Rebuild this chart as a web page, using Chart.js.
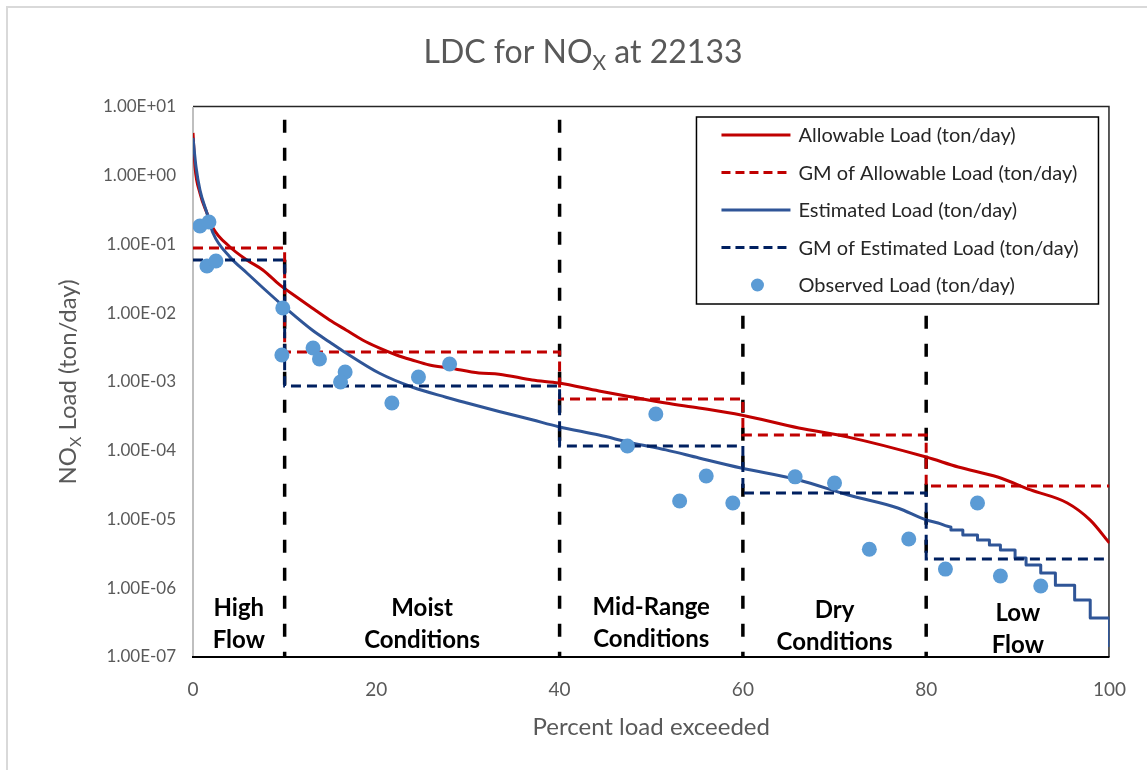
<!DOCTYPE html>
<html>
<head>
<meta charset="utf-8">
<title>LDC for NOx at 22133</title>
<script src="https://cdn.jsdelivr.net/npm/chart.js@4.4.1/dist/chart.umd.min.js"></script>
<style>
  html, body { margin: 0; padding: 0; background: #ffffff; }
  canvas { display: block; }
</style>
</head>
<body>
<canvas id="ldc" width="1147" height="770"></canvas>
<script>
// ---- Data -------------------------------------------------------------
// Allowable load duration curve (percent exceeded, ton/day)
const allowPct  = [0, 0.22, 0.76, 1.52, 2.18, 4.03, 5.88, 7.62, 9.47, 11.3, 13.0, 14.9, 16.7, 18.5, 20.3, 22.2, 23.9, 25.8, 28.0, 31.2, 33.4, 37.0, 39.9, 44.3, 47.9, 51.6, 55.2, 59.8, 66.1, 71.5, 80.0, 83.5, 87.8, 91.4, 95.4, 97.9, 100];
const allowLoad = [4.2, 1.34, 0.56, 0.287, 0.174, 0.092, 0.0596, 0.0426, 0.0258, 0.0172, 0.0119, 0.00798, 0.0057, 0.00408, 0.00313, 0.00247, 0.00209, 0.00177, 0.0016, 0.00135, 0.0013, 0.00107, 0.000966, 0.00074, 0.000605, 0.000495, 0.000419, 0.000331, 0.000214, 0.000158, 8.1e-5, 5.8e-5, 4.15e-5, 2.69e-5, 1.74e-5, 9.8e-6, 4.55e-6];

// Estimated load duration curve (stepped at the low-flow end)
const estPct  = [0, 0.33, 0.76, 1.52, 2.18, 4.03, 5.88, 7.62, 9.47, 10.1, 13.0, 14.9, 16.7, 20.3, 23.9, 27.6, 29.8, 33.4, 37.0, 39.9, 44.3, 47.9, 51.6, 55.2, 59.8, 66.1, 71.5, 76.9, 80.0, 81.3, 82.7, 82.7, 84.0, 84.0, 85.6, 85.6, 86.9, 86.9, 88.1, 88.1, 89.7, 89.7, 90.9, 90.9, 92.5, 92.5, 94.1, 94.1, 96.2, 96.2, 97.9, 97.9, 100, 100];
const estLoad = [3.54, 1.34, 0.62, 0.287, 0.147, 0.0658, 0.0385, 0.0235, 0.0141, 0.0119, 0.0057, 0.00382, 0.00264, 0.00135, 0.000846, 0.000601, 0.000499, 0.000373, 0.000282, 0.000224, 0.000169, 0.00013, 0.000103, 7.85e-5, 5.61e-5, 3.76e-5, 2.27e-5, 1.47e-5, 9.84e-6, 8.9e-6, 7.8e-6, 7.03e-6, 7.03e-6, 5.96e-6, 5.96e-6, 5.04e-6, 5.04e-6, 4.26e-6, 4.26e-6, 3.6e-6, 3.6e-6, 2.75e-6, 2.75e-6, 2.18e-6, 2.18e-6, 1.67e-6, 1.67e-6, 1.11e-6, 1.11e-6, 6.74e-7, 6.74e-7, 3.69e-7, 3.69e-7, 1.4e-7];

// Observed loads from sampling
const obsPct  = [0.76, 1.74, 1.52, 2.5, 9.8, 9.7, 13.1, 13.8, 16.6, 16.1, 21.7, 24.6, 28.0, 47.4, 50.5, 53.1, 56.0, 58.9, 65.7, 70.0, 73.8, 78.1, 82.1, 85.6, 88.1, 92.5];
const obsLoad = [0.186, 0.212, 0.0487, 0.0575, 0.0119, 0.00247, 0.00313, 0.00216, 0.0014, 0.001, 0.000496, 0.00118, 0.00183, 0.000117, 0.000343, 1.86e-5, 4.3e-5, 1.74e-5, 4.17e-5, 3.39e-5, 3.7e-6, 5.2e-6, 1.9e-6, 1.74e-5, 1.51e-6, 1.08e-6];

// Flow regimes: edges (percent exceeded) and geometric means per regime
const zoneEdges   = [0, 10, 40, 60, 80, 100];
const zoneNames   = [["High", "Flow"], ["Moist", "Conditions"], ["Mid-Range", "Conditions"], ["Dry", "Conditions"], ["Low", "Flow"]];
const gmAllowLoad = [0.089, 0.00273, 0.000566, 0.000169, 3.07e-5];
const gmEstLoad   = [0.0596, 0.000875, 0.000117, 2.43e-5, 2.66e-6];
const dividerTop  = 6.5;   // upper end of the regime divider lines (ton/day)

// Axis ticks
const xTicks = [0, 20, 40, 60, 80, 100];
const yTicks = [1e-7, 1e-6, 1e-5, 1e-4, 1e-3, 1e-2, 1e-1, 1, 10];

const seriesNames = [
  "Allowable Load (ton/day)",
  "GM of Allowable Load (ton/day)",
  "Estimated Load (ton/day)",
  "GM of Estimated Load (ton/day)",
  "Observed Load (ton/day)"
];

// ---- Styling ----------------------------------------------------------
const FONT = "Lato, 'Open Sans', sans-serif";
const RED = "#C00000", BLUE = "#2F5597", NAVY = "#002060", DOT = "#5B9BD5";
const GREY_TEXT = "#595959";

// ---- Helpers ----------------------------------------------------------
const pairs = (xs, ys) => xs.map((x, i) => ({ x: x, y: ys[i] }));
function steps(edges, vals) {
  const pts = [];
  vals.forEach((v, i) => { pts.push({ x: edges[i], y: v }); pts.push({ x: edges[i + 1], y: v }); });
  return pts;
}
function sci(v) {
  const e = Math.floor(Math.log10(v) + 1e-9);
  const m = v / Math.pow(10, e);
  return m.toFixed(2) + "E" + (e < 0 ? "-" : "+") + String(Math.abs(e)).padStart(2, "0");
}
// Text made of normal and subscript parts
function richText(ctx, parts, x, y, size, weight, color, align) {
  const main = weight + " " + size + "px " + FONT;
  const sub = weight + " " + Math.round(size * 0.66) + "px " + FONT;
  let total = 0;
  parts.forEach(p => { ctx.font = p.sub ? sub : main; total += ctx.measureText(p.t).width; });
  let cx = align === "center" ? x - total / 2 : x;
  ctx.fillStyle = color;
  ctx.textAlign = "left";
  ctx.textBaseline = "alphabetic";
  parts.forEach(p => {
    ctx.font = p.sub ? sub : main;
    ctx.fillText(p.t, cx, p.sub ? y + size * 0.22 : y);
    cx += ctx.measureText(p.t).width;
  });
}

// ---- Datasets (first listed is drawn on top) ---------------------------
const datasets = [
  { label: seriesNames[4], data: pairs(obsPct, obsLoad), showLine: false,
    pointRadius: 7.5, pointHoverRadius: 7.5, pointBackgroundColor: DOT, pointBorderWidth: 0, borderColor: DOT },
  { label: seriesNames[3], data: steps(zoneEdges, gmEstLoad), borderColor: NAVY, borderWidth: 3,
    borderDash: [10, 6], pointRadius: 0, tension: 0, borderCapStyle: "butt" },
  { label: seriesNames[2], data: pairs(estPct, estLoad), borderColor: BLUE, borderWidth: 3,
    pointRadius: 0, cubicInterpolationMode: "monotone", borderJoinStyle: "round" },
  { label: seriesNames[1], data: steps(zoneEdges, gmAllowLoad), borderColor: RED, borderWidth: 3,
    borderDash: [10, 6], pointRadius: 0, tension: 0, borderCapStyle: "butt" },
  { label: seriesNames[0], data: pairs(allowPct, allowLoad), borderColor: RED, borderWidth: 3,
    pointRadius: 0, cubicInterpolationMode: "monotone", borderJoinStyle: "round" }
];
zoneEdges.slice(1, -1).forEach(e => {
  datasets.push({ label: "divider", data: [{ x: e, y: dividerTop }, { x: e, y: yTicks[0] }],
    borderColor: "#000000", borderWidth: 3.5, borderDash: [13, 15], pointRadius: 0, borderCapStyle: "butt" });
});

// ---- Decorations: frame, titles, regime labels, legend ----------------
const decor = {
  id: "decor",
  beforeDraw(chart) {
    const ctx = chart.ctx;
    ctx.save();
    ctx.fillStyle = "#ffffff";
    ctx.fillRect(0, 0, chart.width, chart.height);
    ctx.strokeStyle = "#D9D9D9";
    ctx.lineWidth = 2;
    ctx.strokeRect(7, 7, chart.width + 40, chart.height + 40);
    ctx.restore();
  },
  beforeDatasetsDraw(chart) {
    const ctx = chart.ctx, a = chart.chartArea;
    ctx.save();
    ctx.strokeStyle = "#262626";
    ctx.lineWidth = 1.5;
    ctx.beginPath();
    ctx.moveTo(a.left, a.top - 0.5); ctx.lineTo(a.right - 0.5, a.top - 0.5); ctx.lineTo(a.right - 0.5, a.bottom);
    ctx.stroke();
    ctx.strokeStyle = "#BFBFBF";
    ctx.lineWidth = 2;
    ctx.beginPath(); ctx.moveTo(a.left, a.top); ctx.lineTo(a.left, a.bottom); ctx.stroke();
    ctx.strokeStyle = "#000000";
    ctx.beginPath(); ctx.moveTo(a.left - 1, a.bottom); ctx.lineTo(a.right, a.bottom); ctx.stroke();
    ctx.restore();
  },
  afterDatasetsDraw(chart) {
    const ctx = chart.ctx, a = chart.chartArea, xs = chart.scales.x;
    ctx.save();
    // regime labels
    ctx.fillStyle = "#000000";
    ctx.font = "bold 24px " + FONT;
    ctx.textAlign = "center";
    ctx.textBaseline = "middle";
    const dy = [0, 0, -1, 2, 5];
    zoneNames.forEach((lines, i) => {
      const cx = xs.getPixelForValue((zoneEdges[i] + zoneEdges[i + 1]) / 2);
      ctx.fillText(lines[0], cx, a.bottom - 49 + dy[i]);
      ctx.fillText(lines[1], cx, a.bottom - 17 + dy[i]);
    });

    // legend box
    const L = a.right - 413, T = a.top + 10, W = 402, H = 187;
    ctx.fillStyle = "#ffffff";
    ctx.fillRect(L, T, W, H);
    ctx.strokeStyle = "#000000";
    ctx.lineWidth = 1.5;
    ctx.strokeRect(L, T, W, H);
    const styles = [
      { c: RED, dash: [] }, { c: RED, dash: [9, 5] }, { c: BLUE, dash: [] }, { c: NAVY, dash: [9, 5] }, { c: DOT, dot: true }
    ];
    ctx.font = "20px " + FONT;
    ctx.textAlign = "left";
    ctx.textBaseline = "middle";
    seriesNames.forEach((name, i) => {
      const y = T + 18 + i * 37.5;
      const st = styles[i];
      if (st.dot) {
        ctx.fillStyle = st.c;
        ctx.beginPath(); ctx.arc(L + 61, y, 6.5, 0, Math.PI * 2); ctx.fill();
      } else {
        ctx.strokeStyle = st.c;
        ctx.lineWidth = 3;
        ctx.setLineDash(st.dash);
        ctx.beginPath(); ctx.moveTo(L + 25, y); ctx.lineTo(L + 94, y); ctx.stroke();
        ctx.setLineDash([]);
      }
      ctx.fillStyle = "#262626";
      ctx.fillText(name, L + 102, y + 1);
    });
    ctx.restore();
  },
  afterDraw(chart) {
    const ctx = chart.ctx, a = chart.chartArea;
    ctx.save();
    // chart title
    richText(ctx, [{ t: "LDC for NO" }, { t: "X", sub: true }, { t: " at 22133" }], 583, 63, 32, "normal", GREY_TEXT, "center");
    // x axis title
    ctx.fillStyle = GREY_TEXT;
    ctx.font = "24px " + FONT;
    ctx.textAlign = "center";
    ctx.textBaseline = "middle";
    ctx.fillText("Percent load exceeded", (a.left + a.right) / 2, 727);
    // y axis title
    ctx.translate(76, (a.top + a.bottom) / 2);
    ctx.rotate(-Math.PI / 2);
    richText(ctx, [{ t: "NO" }, { t: "X", sub: true }, { t: " Load (ton/day)" }], 0, 0, 24, "normal", GREY_TEXT, "center");
    ctx.restore();
  }
};

// ---- Chart ------------------------------------------------------------
new Chart(document.getElementById("ldc").getContext("2d"), {
  type: "line",
  data: { datasets: datasets },
  options: {
    responsive: false,
    animation: false,
    devicePixelRatio: 1,
    events: [],
    layout: { padding: { left: 0, right: 35, top: 107, bottom: 0 } },
    plugins: { legend: { display: false }, tooltip: { enabled: false }, title: { display: false } },
    scales: {
      x: {
        type: "linear", min: 0, max: 100,
        grid: { display: false, drawTicks: false },
        border: { display: false },
        ticks: { color: GREY_TEXT, font: { family: FONT, size: 19 }, padding: 21, maxRotation: 0 },
        afterBuildTicks(s) { s.ticks = xTicks.map(v => ({ value: v })); },
        afterFit(s) { s.height = 113; }
      },
      y: {
        type: "logarithmic", min: yTicks[0], max: yTicks[yTicks.length - 1],
        grid: { display: false, drawTicks: false },
        border: { display: false },
        ticks: { color: GREY_TEXT, font: { family: FONT, size: 17 }, padding: 17, callback: v => sci(v) },
        afterBuildTicks(s) { s.ticks = yTicks.map(v => ({ value: v })); },
        afterFit(s) { s.width = 193; }
      }
    }
  },
  plugins: [decor]
});
</script>
</body>
</html>
